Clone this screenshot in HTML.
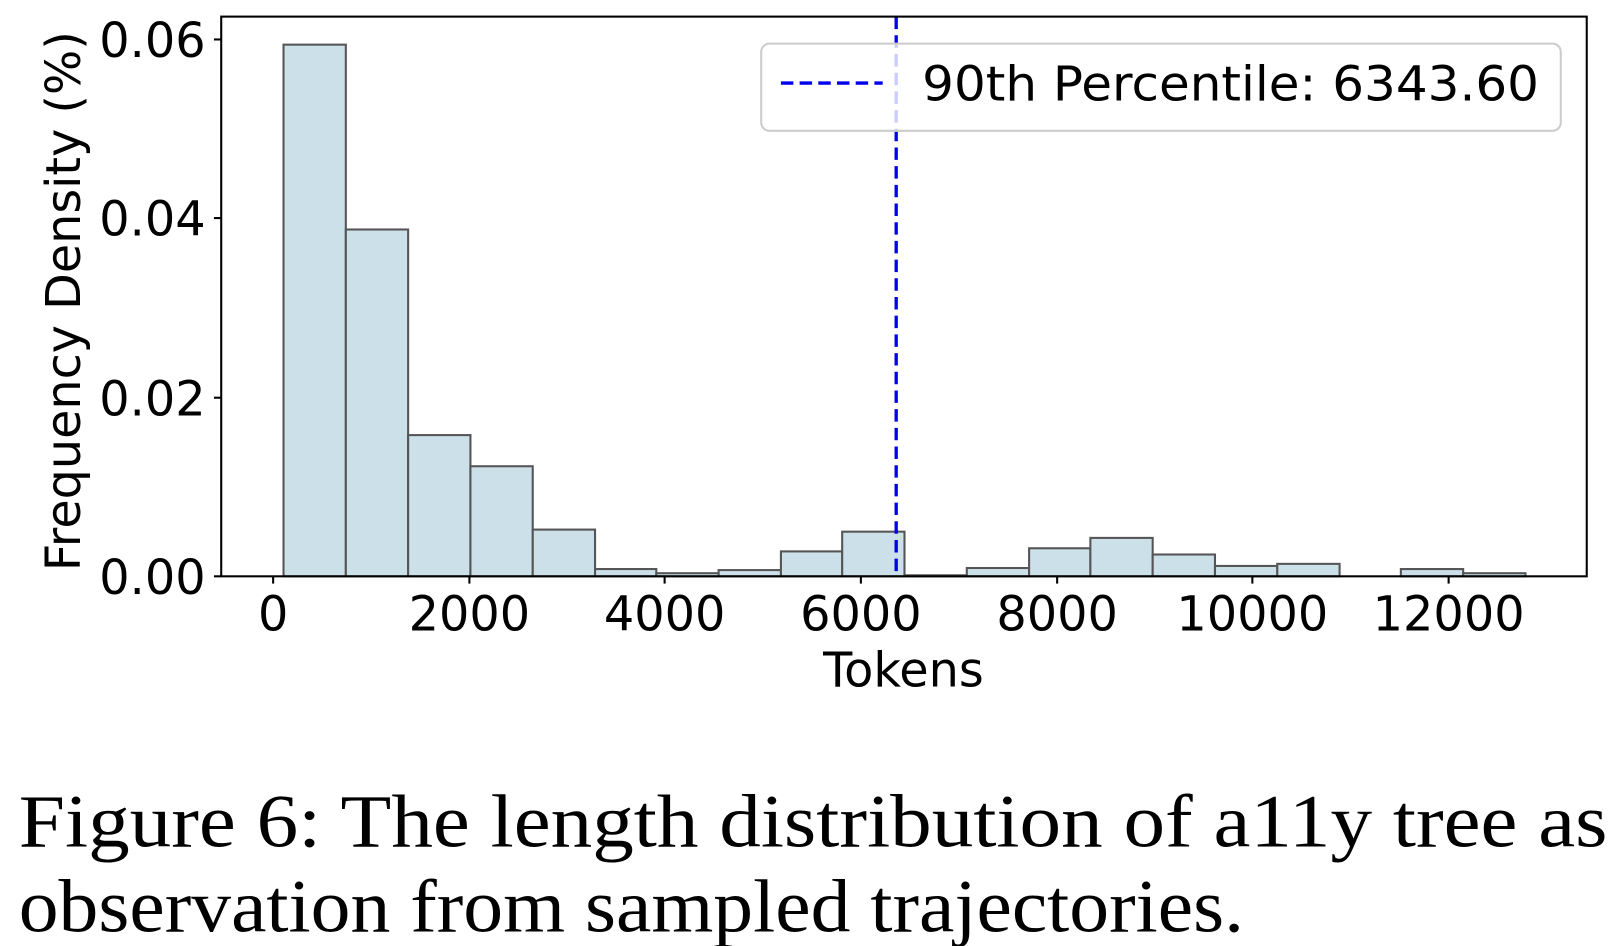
<!DOCTYPE html>
<html><head><style>html,body{margin:0;padding:0;background:#fff;}svg{display:block}
.cap{font-family:"Liberation Serif","Times New Roman",serif;}</style></head>
<body>
<svg width="1620" height="946" viewBox="0 0 1560 911" xmlns="http://www.w3.org/2000/svg">
<rect width="1560" height="911" fill="#fff"/>
<g fill="#cce0ea" stroke="#555" stroke-width="2">
<rect x="273" y="43" width="60" height="512"/>
<rect x="333" y="221" width="60" height="334"/>
<rect x="393" y="419" width="60" height="136"/>
<rect x="453" y="449" width="60" height="106"/>
<rect x="513" y="510" width="60" height="45"/>
<rect x="573" y="548" width="59" height="7"/>
<rect x="632" y="552" width="60" height="3"/>
<rect x="692" y="549" width="60" height="6"/>
<rect x="752" y="531" width="59" height="24"/>
<rect x="811" y="512" width="60" height="43"/>
<rect x="871" y="554" width="60" height="1"/>
<rect x="931" y="547" width="60" height="8"/>
<rect x="991" y="528" width="59" height="27"/>
<rect x="1050" y="518" width="60" height="37"/>
<rect x="1110" y="534" width="60" height="21"/>
<rect x="1170" y="545" width="60" height="10"/>
<rect x="1230" y="543" width="60" height="12"/>
<rect x="1349" y="548" width="60" height="7"/>
<rect x="1409" y="552" width="60" height="3"/>
</g>
<line x1="863" y1="16" x2="863" y2="555" stroke="#0000ee" stroke-width="3.2" stroke-dasharray="12,6"/>
<rect x="733" y="42" width="770" height="84" rx="8" fill="#fff" fill-opacity="0.8" stroke="#ccc" stroke-width="2"/>
<line x1="752" y1="80" x2="850" y2="80" stroke="#0000ee" stroke-width="3.2" stroke-dasharray="12,6"/>
<text x="888" y="97" font-family="DejaVu Sans, Liberation Sans, sans-serif" font-size="46" textLength="594" lengthAdjust="spacingAndGlyphs">90th Percentile: 6343.60</text>
<rect x="213" y="16" width="1315" height="539" fill="none" stroke="#000" stroke-width="2"/>
<g stroke="#000" stroke-width="2">
<line x1="206" y1="555" x2="213" y2="555"/><line x1="206" y1="383" x2="213" y2="383"/>
<line x1="206" y1="210" x2="213" y2="210"/><line x1="206" y1="38" x2="213" y2="38"/>
<line x1="263" y1="555" x2="263" y2="562"/><line x1="452" y1="555" x2="452" y2="562"/>
<line x1="640" y1="555" x2="640" y2="562"/><line x1="829" y1="555" x2="829" y2="562"/>
<line x1="1018" y1="555" x2="1018" y2="562"/><line x1="1206" y1="555" x2="1206" y2="562"/>
<line x1="1395" y1="555" x2="1395" y2="562"/>
</g>
<g font-family="DejaVu Sans, Liberation Sans, sans-serif" font-size="46" fill="#000">
<g text-anchor="end">
<text x="198" y="572">0.00</text><text x="198" y="400">0.02</text>
<text x="198" y="227">0.04</text><text x="198" y="55">0.06</text>
</g>
<g text-anchor="middle">
<text x="263" y="607">0</text><text x="452" y="607">2000</text><text x="640" y="607">4000</text>
<text x="829" y="607">6000</text><text x="1018" y="607">8000</text><text x="1206" y="607">10000</text>
<text x="1395" y="607">12000</text>
<text x="870" y="661">Tokens</text>
<text transform="translate(77,290) rotate(-90)" textLength="520" lengthAdjust="spacingAndGlyphs">Frequency Density (%)</text>
</g>
</g>
<g class="cap" font-size="72" fill="#000">
<text x="18" y="815" textLength="1530" lengthAdjust="spacingAndGlyphs">Figure 6: The length distribution of a11y tree as</text>
<text x="18" y="897" textLength="1180" lengthAdjust="spacingAndGlyphs">observation from sampled trajectories.</text>
</g>
</svg>
</body></html>
